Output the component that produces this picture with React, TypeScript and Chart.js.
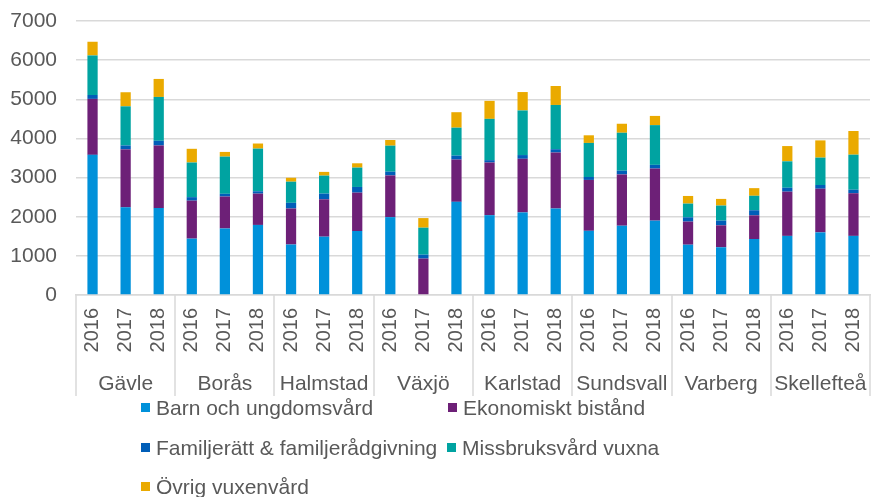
import React, { useEffect, useRef } from 'react';
import { Chart, registerables } from 'chart.js';

Chart.register(...registerables);

const cities = ['Gävle', 'Borås', 'Halmstad', 'Växjö', 'Karlstad', 'Sundsvall', 'Varberg', 'Skellefteå'];
const years = ['2016', '2017', '2018'];
const yTicks = [0, 1000, 2000, 3000, 4000, 5000, 6000, 7000];

const seriesNames = [
  'Barn och ungdomsvård',
  'Ekonomiskt bistånd',
  'Familjerätt & familjerådgivning',
  'Missbruksvård vuxna',
  'Övrig vuxenvård',
];

const barn = [3580, 2240, 2220, 1440, 1700, 1790, 1290, 1490, 1635, 1990, 0, 2380, 2040, 2110, 2210, 1640, 1770, 1900, 1285, 1220, 1430, 1510, 1600, 1510];
const ekonomiskt = [1430, 1480, 1600, 970, 815, 800, 920, 955, 980, 1065, 930, 1080, 1345, 1370, 1430, 1300, 1310, 1330, 590, 560, 605, 1130, 1115, 1090];
const familjeratt = [100, 100, 120, 90, 70, 60, 145, 145, 145, 95, 100, 100, 60, 95, 85, 75, 95, 95, 110, 120, 130, 100, 95, 90];
const missbruk = [1010, 1000, 1120, 885, 950, 1090, 540, 460, 495, 665, 690, 715, 1055, 1140, 1130, 870, 970, 1015, 350, 385, 370, 675, 700, 895];
const ovrig = [350, 360, 460, 350, 120, 130, 100, 95, 110, 145, 245, 395, 460, 470, 485, 195, 230, 235, 195, 170, 195, 390, 440, 605];

const colors = ['#0091DA', '#6D2077', '#005EB8', '#00A3A1', '#EAAA00'];

const FONT = '"Liberation Sans", Arial, sans-serif';
const TEXT = '#595959';
const GRID = '#d9d9d9';

const labels: string[] = [];
cities.forEach((c) => years.forEach((y) => labels.push(c + ' ' + y)));

const multiAxisPlugin = {
  id: 'multiAxis',
  afterDraw(chart: any) {
    const ctx = chart.ctx as CanvasRenderingContext2D;
    const x = chart.scales.x;
    const area = chart.chartArea;
    const half = (x.getPixelForValue(1) - x.getPixelForValue(0)) / 2;
    ctx.save();
    // group separators
    ctx.strokeStyle = GRID;
    ctx.lineWidth = 1.5;
    for (let g = 0; g <= cities.length; g++) {
      const idx = g * years.length;
      const px = Math.round(x.getPixelForValue(Math.min(idx, labels.length - 1)) + (idx >= labels.length ? half : -half));
      ctx.beginPath();
      ctx.moveTo(px, area.bottom);
      ctx.lineTo(px, 396);
      ctx.stroke();
    }
    // year labels
    ctx.fillStyle = TEXT;
    ctx.font = '20px ' + FONT;
    ctx.textAlign = 'right';
    ctx.textBaseline = 'middle';
    labels.forEach((_, i) => {
      const px = x.getPixelForValue(i);
      ctx.save();
      ctx.translate(px, 308);
      ctx.rotate(-Math.PI / 2);
      ctx.fillText(years[i % years.length], 0, 0);
      ctx.restore();
    });
    // city labels
    ctx.font = '21px ' + FONT;
    ctx.textAlign = 'center';
    ctx.textBaseline = 'alphabetic';
    cities.forEach((c, g) => {
      const px = (x.getPixelForValue(g * 3) + x.getPixelForValue(g * 3 + 2)) / 2;
      ctx.fillText(c, px, 390);
    });
    // legend
    const legendPos = [
      [141, 415],
      [448, 415],
      [141, 455],
      [447, 455],
      [141, 494],
    ];
    ctx.textAlign = 'left';
    ctx.font = '21px ' + FONT;
    chart.data.datasets.forEach((ds: any, i: number) => {
      const [lx, ly] = legendPos[i];
      ctx.fillStyle = ds.backgroundColor;
      ctx.fillRect(lx, ly - 12, 9, 9);
      ctx.fillStyle = TEXT;
      ctx.fillText(ds.label, lx + 15, ly);
    });
    ctx.restore();
  },
};

export default function App() {
  const ref = useRef<HTMLCanvasElement>(null);
  useEffect(() => {
    const seriesData = [barn, ekonomiskt, familjeratt, missbruk, ovrig];
    const chart = new Chart(ref.current as HTMLCanvasElement, {
      type: 'bar',
      data: {
        labels,
        datasets: seriesNames.map((name, i) => ({
          label: name,
          data: seriesData[i],
          backgroundColor: colors[i],
          borderWidth: 0,
          barPercentage: 0.31,
          categoryPercentage: 1,
        })),
      },
      options: {
        responsive: false,
        animation: false,
        layout: { padding: { top: 21, right: 2, left: 0, bottom: 0 } },
        plugins: { legend: { display: false }, tooltip: { enabled: false } },
        scales: {
          x: {
            stacked: true,
            grid: { display: false },
            border: { display: true, color: GRID, width: 1.5 },
            ticks: { display: false },
            afterFit: (s: any) => {
              s.height = 497 - 295;
            },
          },
          y: {
            stacked: true,
            min: yTicks[0],
            max: yTicks[yTicks.length - 1],
            afterBuildTicks: (s: any) => {
              s.ticks = yTicks.map((v) => ({ value: v }));
            },
            ticks: {
              color: TEXT,
              font: { family: FONT, size: 21 },
              padding: 19,
              callback: (v: any) => String(v),
            },
            grid: { color: GRID, lineWidth: 1.5, drawTicks: false },
            border: { display: false },
            afterFit: (s: any) => {
              s.width = 76;
              s.paddingTop = 0;
              s.paddingBottom = 0;
            },
          },
        },
      },
      plugins: [multiAxisPlugin],
    });
    return () => chart.destroy();
  }, []);
  return (
    <div style={{ position: 'fixed', left: 0, top: 0, width: 872, height: 497, background: '#fff' }}>
      <canvas ref={ref} width={872} height={497} style={{ width: 872, height: 497, display: 'block' }} />
    </div>
  );
}
